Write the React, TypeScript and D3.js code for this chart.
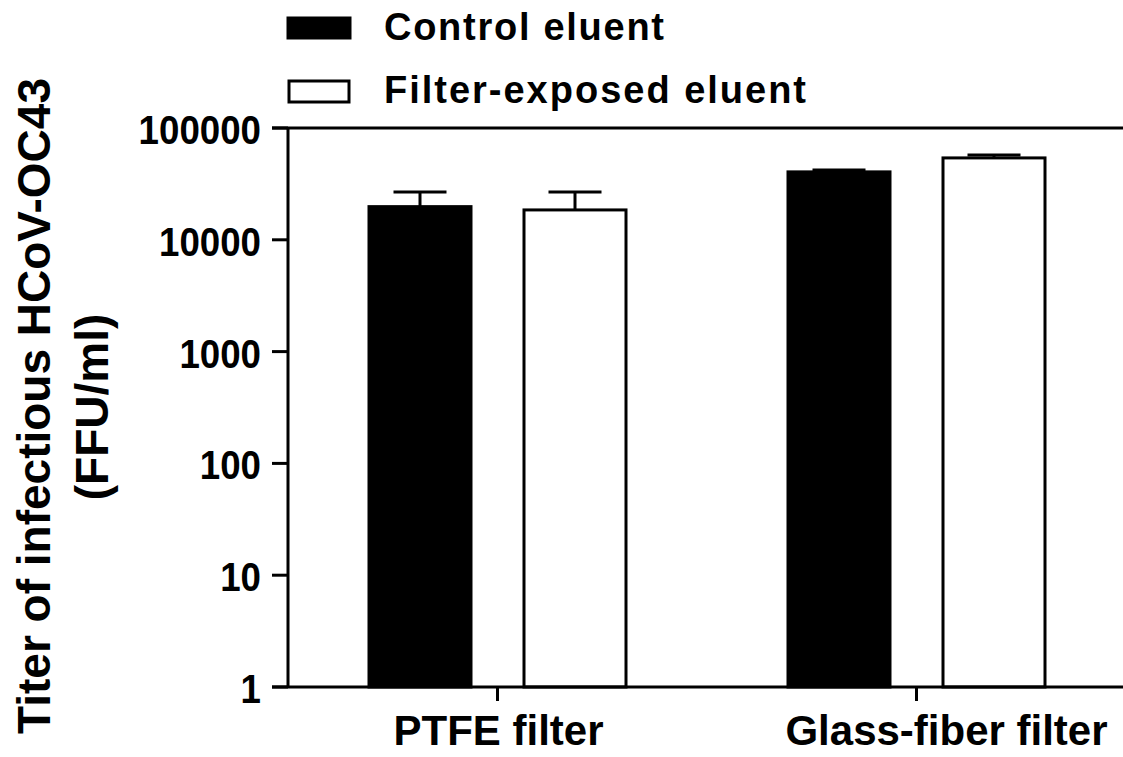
import React from "react";
import * as d3 from "d3";

const categories = ["PTFE filter", "Glass-fiber filter"];
const seriesNames = ["Control eluent", "Filter-exposed eluent"];
const controlMeans = [19800, 40500];
const controlErrTop = [26800, 42200];
const exposedMeans = [18500, 54000];
const exposedErrTop = [26800, 57400];
const yTicks = [1, 10, 100, 1000, 10000, 100000];
const yTickLabels = ["1", "10", "100", "1000", "10000", "100000"];

const FONT = "'Liberation Sans', Arial, Helvetica, sans-serif";

export default function App() {
  const W = 1123;
  const H = 757;
  const axisX = 288;
  const y = d3.scaleLog().domain([1, 100000]).range([687, 128]);
  const x = d3.scalePoint<string>().domain(categories).range([axisX, 1126]).padding(0.5);
  const inner = d3.scaleBand<string>().domain(seriesNames).range([-130, 130]).paddingInner(0.3226).paddingOuter(0);
  const bw = inner.bandwidth();
  const capW = 53;
  const labelOffsets = [1, 30];

  const series = [
    { name: seriesNames[0], means: controlMeans, errs: controlErrTop, fill: "#000" },
    { name: seriesNames[1], means: exposedMeans, errs: exposedErrTop, fill: "#fff" },
  ];

  return (
    <svg width={W} height={H} style={{ position: "absolute", left: 0, top: 0, background: "#fff" }} fontFamily={FONT} fontWeight="bold">
      <rect x={0} y={0} width={W} height={H} fill="#fff" />
      {/* bars */}
      {series.map((s, si) =>
        categories.map((c, ci) => {
          const bx = (x(c) as number) + (inner(s.name) as number);
          const top = y(s.means[ci]);
          const cx = bx + bw / 2;
          const et = y(s.errs[ci]);
          return (
            <g key={`${si}-${ci}`}>
              <line x1={cx} x2={cx} y1={top} y2={et} stroke="#000" strokeWidth={3} />
              <line x1={cx - capW / 2} x2={cx + capW / 2} y1={et} y2={et} stroke="#000" strokeWidth={3} />
              <rect
                x={bx + 1.5}
                y={top}
                width={bw - 3}
                height={y(1) - top}
                fill={s.fill}
                stroke="#000"
                strokeWidth={3}
              />
            </g>
          );
        })
      )}
      {/* axes */}
      <line x1={axisX} x2={axisX} y1={y(100000)} y2={y(1)} stroke="#000" strokeWidth={3} />
      <line x1={272} x2={W} y1={y(1)} y2={y(1)} stroke="#000" strokeWidth={3} />
      <line x1={272} x2={W} y1={y(100000)} y2={y(100000)} stroke="#000" strokeWidth={3} />
      {yTicks.map((t, i) => (
        <g key={t}>
          <line x1={272} x2={axisX} y1={y(t)} y2={y(t)} stroke="#000" strokeWidth={3} />
          <text
            x={261}
            y={y(t) + 16}
            textAnchor="end"
            fontSize={41}
            textLength={yTickLabels[i].length * 20.4}
            lengthAdjust="spacingAndGlyphs"
          >
            {yTickLabels[i]}
          </text>
        </g>
      ))}
      {categories.map((c, i) => (
        <g key={c}>
          <line x1={x(c)} x2={x(c)} y1={y(1)} y2={y(1) + 14} stroke="#000" strokeWidth={3} />
          <text x={(x(c) as number) + labelOffsets[i]} y={745} textAnchor="middle" fontSize={42}>
            {c}
          </text>
        </g>
      ))}
      {/* y title */}
      <text transform="translate(50,406) rotate(-90)" textAnchor="middle" fontSize={46}>
        Titer of infectious HCoV-OC43
      </text>
      <text transform="translate(108,407) rotate(-90)" textAnchor="middle" fontSize={46}>
        (FFU/ml)
      </text>
      {/* legend */}
      <rect x={288} y={18} width={62} height={20} fill="#000" stroke="#000" strokeWidth={3} />
      <text x={384} y={40} fontSize={38} textLength={280} lengthAdjust="spacing">
        {seriesNames[0]}
      </text>
      <rect x={289} y={81} width={60} height={21} fill="#fff" stroke="#000" strokeWidth={3} />
      <text x={384} y={103} fontSize={38} textLength={422} lengthAdjust="spacing">
        {seriesNames[1]}
      </text>
    </svg>
  );
}
